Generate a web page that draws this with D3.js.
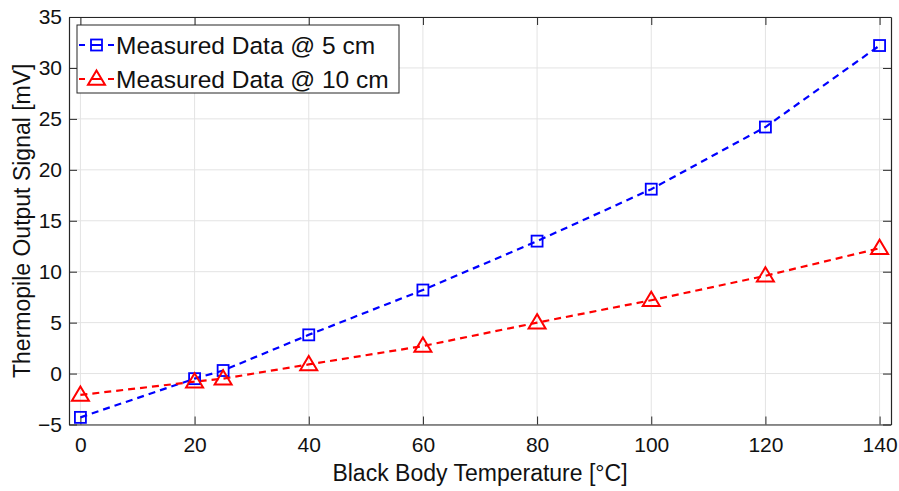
<!DOCTYPE html>
<html><head><meta charset="utf-8">
<script src="https://cdn.jsdelivr.net/npm/d3@7"></script>
<style>body{margin:0;background:#fff;} text{font-family:"Liberation Sans",Arial,sans-serif;}</style>
</head><body>
<svg id="c" width="899" height="491"></svg>
<script>
const temps = [0, 20, 25, 40, 60, 80, 100, 120, 140];
const data5cm = [-4.3, -0.5, 0.3, 3.8, 8.2, 13.0, 18.1, 24.2, 32.2];
const data10cm = [-2.1, -0.8, -0.5, 0.9, 2.7, 5.0, 7.2, 9.6, 12.3];
const xTicks = [0, 20, 40, 60, 80, 100, 120, 140];
const yTicks = [-5, 0, 5, 10, 15, 20, 25, 30, 35];
const seriesNames = ["Measured Data @ 5 cm", "Measured Data @ 10 cm"];
const colors = ["#0000ff", "#ff0000"];

const svg = d3.select("#c");
const L = 69, R = 891, T = 17, B = 424.5;
const x = d3.scaleLinear().domain([-2, 142]).range([L, R]);
const y = d3.scaleLinear().domain([-5, 35]).range([B, T]);

// grid
svg.append("g").selectAll("line").data(xTicks).join("line")
  .attr("x1", d => x(d)).attr("x2", d => x(d)).attr("y1", T).attr("y2", B)
  .attr("stroke", "#e3e3e3").attr("stroke-width", 1);
svg.append("g").selectAll("line").data(yTicks).join("line")
  .attr("y1", d => y(d)).attr("y2", d => y(d)).attr("x1", L).attr("x2", R)
  .attr("stroke", "#e3e3e3").attr("stroke-width", 1);

// axes
const axCol = "#262626";
const xb = svg.append("g").attr("transform", `translate(0,${B})`)
  .call(d3.axisBottom(x).tickValues(xTicks).tickSizeInner(-8).tickSizeOuter(0).tickPadding(13));
const xt = svg.append("g").attr("transform", `translate(0,${T})`)
  .call(d3.axisTop(x).tickValues(xTicks).tickSizeInner(-8).tickSizeOuter(0).tickFormat(""));
const yl = svg.append("g").attr("transform", `translate(${L},0)`)
  .call(d3.axisLeft(y).tickValues(yTicks).tickSizeInner(-8).tickSizeOuter(0).tickPadding(7));
const yr = svg.append("g").attr("transform", `translate(${R},0)`)
  .call(d3.axisRight(y).tickValues(yTicks).tickSizeInner(-8).tickSizeOuter(0).tickFormat(""));
[xb, xt, yl, yr].forEach(g => {
  g.select(".domain").attr("stroke", axCol).attr("stroke-width", 1.2);
  g.selectAll(".tick line").attr("stroke", axCol);
  g.selectAll("text").attr("fill", "#111").style("font-size", "21px").style("font-family", "'Liberation Sans',Arial,sans-serif");
});
xb.selectAll("text").attr("dy", "0.71em");

// labels
svg.append("text").attr("x", (L + R) / 2).attr("y", 481).attr("text-anchor", "middle")
  .style("font-size", "23px").attr("fill", "#111").text("Black Body Temperature [°C]");
svg.append("text").attr("transform", `translate(30,${(T + B) / 2}) rotate(-90)`).attr("text-anchor", "middle")
  .style("font-size", "23px").attr("fill", "#111").text("Thermopile Output Signal [mV]");

const clip = svg.append("g");
const line = d3.line().x(d => x(d[0])).y(d => y(d[1]));
const allSeries = [data5cm, data10cm];
allSeries.forEach((vals, i) => {
  const pts = temps.map((t, j) => [t, vals[j]]);
  clip.append("path").attr("d", line(pts)).attr("fill", "none")
    .attr("stroke", colors[i]).attr("stroke-width", 2.2).attr("stroke-dasharray", "7,5");
});
function marker(g, i, cx, cy) {
  if (i === 0) {
    g.append("rect").attr("x", cx - 5.5).attr("y", cy - 5.5).attr("width", 11).attr("height", 11)
      .attr("fill", "none").attr("stroke", colors[0]).attr("stroke-width", 1.8);
  } else {
    const s = 8.5;
    g.append("path").attr("d", `M${cx},${cy - s} L${cx + s},${cy + s * 0.68} L${cx - s},${cy + s * 0.68} Z`)
      .attr("fill", "none").attr("stroke", colors[1]).attr("stroke-width", 2);
  }
}
allSeries.forEach((vals, i) => {
  temps.forEach((t, j) => marker(clip, i, x(t), y(vals[j])));
});

// legend
const lg = svg.append("g");
lg.append("rect").attr("x", 77).attr("y", 25).attr("width", 322).attr("height", 68)
  .attr("fill", "#fff").attr("stroke", "#262626").attr("stroke-width", 1);
seriesNames.forEach((n, i) => {
  const cy = 45 + i * 34;
  lg.append("line").attr("x1", 79).attr("x2", 114).attr("y1", cy).attr("y2", cy)
    .attr("stroke", colors[i]).attr("stroke-width", 2).attr("stroke-dasharray", "6,6,11,6,6");
  marker(lg, i, 96.5, cy);
  lg.append("text").attr("x", 116).attr("y", cy + 8.5).style("font-size", "24.5px").attr("fill", "#111").text(n);
});
</script>
</body></html>
